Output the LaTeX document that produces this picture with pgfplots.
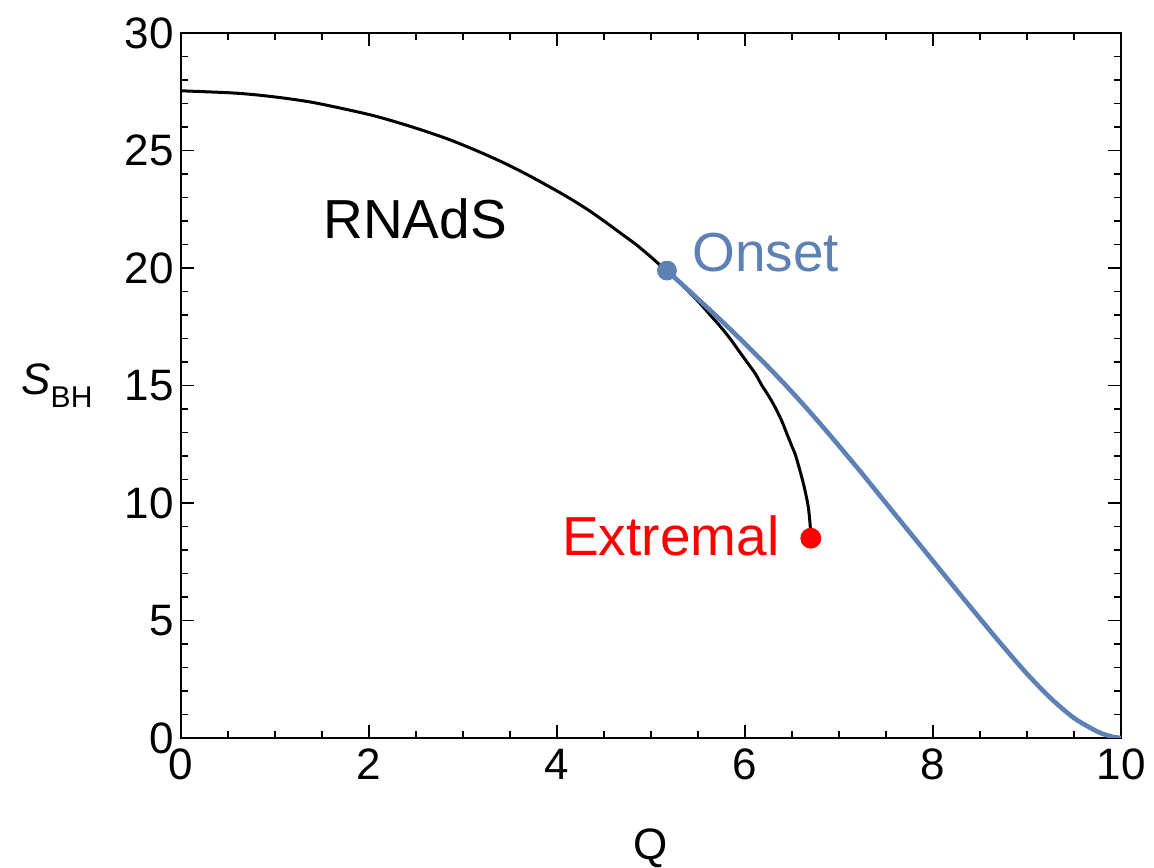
\documentclass[border=0pt]{standalone}
\usepackage{pgfplots}
\pgfplotsset{compat=1.18}
\usepackage{fontspec}
\setmainfont{Liberation Sans}
\definecolor{mblue}{rgb}{0.368417,0.506779,0.709798}
\begin{document}
\begin{tikzpicture}
\begin{axis}[
  scale only axis, width=470pt, height=352.5pt,
  xmin=0, xmax=10, ymin=0, ymax=30,
  xtick={0,2,4,6,8,10}, ytick={0,5,10,15,20,25,30},
  minor x tick num=3, minor y tick num=4,
  tick align=inside, xtick pos=both, ytick pos=both,
  major tick length=6.5pt, minor tick length=3.5pt,
  every tick/.style={black, line width=0.6pt},
  axis line style={line width=0.6pt},
  /pgf/number format/assume math mode=true,
  tick label style={font=\fontsize{22}{22}\selectfont},
  xticklabel style={yshift=-2pt},
  xlabel={Q},
  ylabel={\textit{S}\raisebox{-0.3em}{\fontsize{15}{15}\selectfont BH}},
  xlabel style={at={(axis description cs:0.5,-0.156)}, anchor=center, font=\fontsize{22}{22}\selectfont},
  ylabel style={at={(axis description cs:-0.132,0.5)}, rotate=-90, anchor=center, font=\fontsize{22}{22}\selectfont},
]
\addplot[black, line width=1.5pt, smooth, tension=0.5] coordinates {
(0,27.54) (0.54,27.45) (0.84,27.35) (1.15,27.2) (1.46,27.0) (2.03,26.5) (2.46,26.0)
(2.83,25.5) (3.14,25.0) (3.42,24.5) (3.67,24.0) (3.90,23.5) (4.12,23.0) (4.32,22.5)
(4.50,22.0) (4.67,21.5) (4.84,21.0) (4.99,20.5) (5.13,20.0) (5.27,19.5) (5.40,19.0)
(5.52,18.5) (5.63,18.0) (5.74,17.5) (5.84,17.0) (5.93,16.5) (6.02,16.0) (6.11,15.5)
(6.18,15.0) (6.26,14.5) (6.33,14.0) (6.39,13.5) (6.44,13.0) (6.49,12.5) (6.54,12.0)
(6.61,11.0) (6.64,10.5) (6.666,10.0) (6.676,9.75) (6.683,9.5) (6.689,9.25)
(6.694,9.0) (6.696,8.75) (6.698,8.5)
};
\addplot[mblue, line width=2.3pt, smooth, tension=0.5] coordinates {
(5.17,19.89) (5.4,19.05) (5.6,18.31) (5.8,17.56) (6.0,16.78) (6.2,15.98) (6.4,15.15)
(6.6,14.28) (6.8,13.37) (7.0,12.43) (7.25,11.23) (7.5,9.99) (7.75,8.76) (8.0,7.53)
(8.25,6.3) (8.5,5.08) (8.75,3.88) (9.0,2.73) (9.25,1.7) (9.5,0.85) (9.75,0.27)
(9.9,0.06) (10,0)
};
\addplot[only marks, mark=*, mark size=4.75pt, mblue] coordinates {(5.17,19.89)};
\addplot[only marks, mark=*, mark size=5pt, red] coordinates {(6.70,8.5)};
\node[anchor=center, inner sep=0pt, font=\fontsize{27.5}{27.5}\selectfont] at (axis cs:2.49,22.09) {RNAdS};
\node[anchor=center, inner sep=0pt, text=mblue, font=\fontsize{27.5}{27.5}\selectfont] at (axis cs:6.22,20.64) {Onset};
\node[anchor=center, inner sep=0pt, text=red, font=\fontsize{27.5}{27.5}\selectfont] at (axis cs:5.21,8.6) {Extremal};
\end{axis}
\pgfresetboundingbox
\path ([xshift=-90.5pt,yshift=-65pt]current axis.south west) rectangle ([xshift=16.5pt,yshift=16.5pt]current axis.north east);
\end{tikzpicture}
\end{document}
